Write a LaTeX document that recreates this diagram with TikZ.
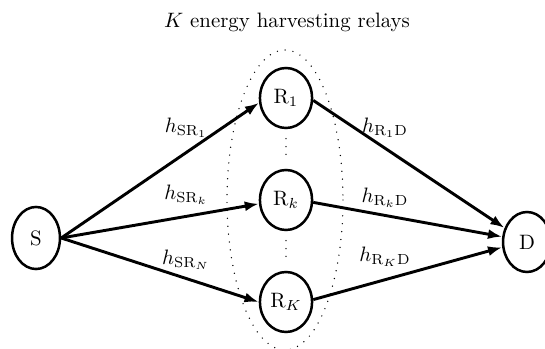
\documentclass[tikz,border=0pt]{standalone}
\usetikzlibrary{shapes.geometric,arrows.meta}
\begin{document}
\begin{tikzpicture}[x=0.48pt,y=-0.48pt,
  nodeell/.style={ellipse,draw,line width=1.2pt,inner sep=0pt,minimum width=25pt,minimum height=28.8pt},
  link/.style={line width=1.4pt,-{Latex[length=6.8pt,width=4.8pt]}},
  dotline/.style={line width=0.7pt,line cap=round,dash pattern=on 0pt off 3.8pt},
  lbl/.style={inner sep=0pt}]
\useasboundingbox (0,0) rectangle (545,349);
\node[lbl] (title) at (287,22) {$K$ energy harvesting relays};
\draw[dotline] (285,200) ellipse [x radius=58,y radius=150];
\node[nodeell,minimum width=23pt,minimum height=29.8pt] (S) at (36,238) {S};
\node[nodeell] (R1) at (286,98) {$\mathrm{R}_1$};
\node[nodeell] (Rk) at (286,200) {$\mathrm{R}_k$};
\node[nodeell] (RK) at (286,302) {$\mathrm{R}_K$};
\node[nodeell,minimum width=23pt] (D) at (527,242) {D};
\draw[dotline,shorten <=4.5pt,shorten >=3.5pt] (R1) -- (Rk);
\draw[dotline,shorten <=4.5pt,shorten >=3.5pt] (Rk) -- (RK);
\draw[link] (S.east) -- (R1.190);
\draw[link] (S.east) -- (Rk.188);
\draw[link] (S.east) -- (RK.west);
\draw[link] (R1.355) -- (D.148);
\draw[link] (Rk.355) -- (D.168);
\draw[link] (RK.5) -- (D.192);
\node[lbl] (l1) at (186,128) {$h_{\mathrm{SR}_1}$};
\node[lbl] (l2) at (186,195) {$h_{\mathrm{SR}_k}$};
\node[lbl] (l3) at (186,260) {$h_{\mathrm{SR}_N}$};
\node[lbl] (l4) at (385,128) {$h_{\mathrm{R}_1\mathrm{D}}$};
\node[lbl] (l5) at (385,198) {$h_{\mathrm{R}_k\mathrm{D}}$};
\node[lbl] (l6) at (385,257) {$h_{\mathrm{R}_K\mathrm{D}}$};
\end{tikzpicture}
\end{document}
